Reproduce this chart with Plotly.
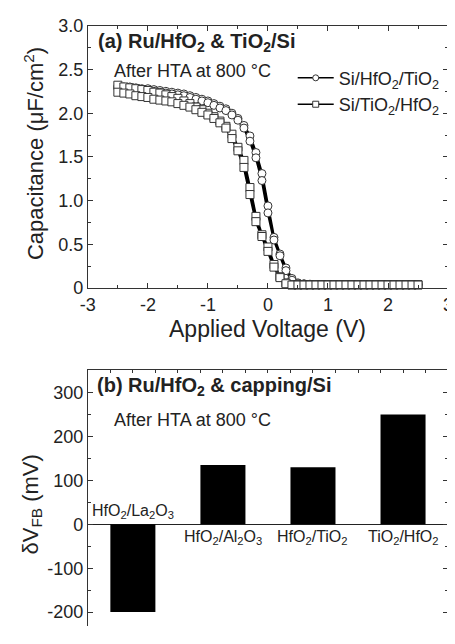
import plotly.graph_objects as go

# ---------------- data: panel (a) C-V curves ----------------
voltage = [-2.5, -2.4, -2.3, -2.2, -2.1, -2.0, -1.9, -1.8, -1.7, -1.6,
           -1.5, -1.4, -1.3, -1.2, -1.1, -1.0, -0.9, -0.8, -0.7, -0.6,
           -0.5, -0.4, -0.3, -0.2, -0.1, 0.0, 0.1, 0.2, 0.3, 0.4,
           0.5, 0.6, 0.7, 0.8, 0.9, 1.0, 1.1, 1.2, 1.3, 1.4,
           1.5, 1.6, 1.7, 1.8, 1.9, 2.0, 2.1, 2.2, 2.3, 2.4, 2.5]

# Si/HfO2/TiO2 (circles), two sweeps
cap_hfo2_tio2_up = [2.31, 2.30, 2.30, 2.29, 2.28, 2.28, 2.27, 2.26, 2.25, 2.24,
                    2.23, 2.22, 2.20, 2.18, 2.16, 2.14, 2.11, 2.08, 2.05, 2.00,
                    1.94, 1.86, 1.74, 1.55, 1.31, 0.94, 0.58, 0.39, 0.23, 0.11,
                    0.06, 0.05, 0.045, 0.04, 0.04, 0.04, 0.04, 0.04, 0.04, 0.04,
                    0.04, 0.04, 0.04, 0.04, 0.04, 0.04, 0.04, 0.04, 0.04, 0.04, 0.04]
cap_hfo2_tio2_dn = [2.29, 2.29, 2.28, 2.27, 2.27, 2.26, 2.25, 2.24, 2.23, 2.22,
                    2.21, 2.20, 2.18, 2.16, 2.14, 2.12, 2.09, 2.06, 2.03, 1.98,
                    1.92, 1.83, 1.68, 1.49, 1.23, 0.86, 0.55, 0.37, 0.20, 0.09,
                    0.05, 0.045, 0.04, 0.04, 0.04, 0.04, 0.04, 0.04, 0.04, 0.04,
                    0.04, 0.04, 0.04, 0.04, 0.04, 0.04, 0.04, 0.04, 0.04, 0.04, 0.04]

# Si/TiO2/HfO2 (squares), two sweeps
cap_tio2_hfo2_up = [2.32, 2.30, 2.29, 2.28, 2.27, 2.26, 2.24, 2.23, 2.21, 2.19,
                    2.17, 2.14, 2.11, 2.07, 2.04, 2.00, 1.96, 1.91, 1.85, 1.76,
                    1.61, 1.46, 1.15, 0.82, 0.61, 0.47, 0.27, 0.13, 0.06, 0.04,
                    0.04, 0.04, 0.04, 0.04, 0.04, 0.04, 0.04, 0.04, 0.04, 0.04,
                    0.04, 0.04, 0.04, 0.04, 0.04, 0.04, 0.04, 0.04, 0.04, 0.04, 0.04]
cap_tio2_hfo2_dn = [2.24, 2.23, 2.22, 2.20, 2.19, 2.18, 2.16, 2.15, 2.14, 2.13,
                    2.11, 2.09, 2.07, 2.04, 2.01, 1.98, 1.94, 1.89, 1.83, 1.71,
                    1.57, 1.38, 1.07, 0.76, 0.59, 0.42, 0.24, 0.12, 0.05, 0.035,
                    0.035, 0.035, 0.035, 0.035, 0.035, 0.035, 0.035, 0.035, 0.035, 0.035,
                    0.035, 0.035, 0.035, 0.035, 0.035, 0.035, 0.035, 0.035, 0.035, 0.035, 0.035]

series_names = ["Si/HfO<sub>2</sub>/TiO<sub>2</sub>", "Si/TiO<sub>2</sub>/HfO<sub>2</sub>"]

cv_xticks = [-3, -2, -1, 0, 1, 2, 3]
cv_xticktext = ["-3", "-2", "-1", "0", "1", "2", "3"]
cv_yticks = [0, 0.5, 1.0, 1.5, 2.0, 2.5, 3.0]
cv_yticktext = ["0", "0.5", "1.0", "1.5", "2.0", "2.5", "3.0"]

# ---------------- data: panel (b) flat-band shift ----------------
cap_stacks = ["HfO<sub>2</sub>/La<sub>2</sub>O<sub>3</sub>",
              "HfO<sub>2</sub>/Al<sub>2</sub>O<sub>3</sub>",
              "HfO<sub>2</sub>/TiO<sub>2</sub>",
              "TiO<sub>2</sub>/HfO<sub>2</sub>"]
dvfb_mv = [-200, 135, 130, 250]
bar_pos = [0, 1, 2, 3]
fb_yticks = [-200, -100, 0, 100, 200, 300]
fb_yticktext = ["-200", "-100", "0", "100", "200", "300"]

FONT = "Liberation Sans, Arial, sans-serif"
# the page body has an 8 px margin: the figure is drawn 8 px in from the window corner
OFF = 8
W, H = 455 - OFF, 644 - 2 * OFF


def px(x):
    return (x - OFF) / W


def py(y):
    return 1 - (y - OFF) / H


fig = go.Figure()

curves = [(cap_hfo2_tio2_up, cap_hfo2_tio2_dn), (cap_tio2_hfo2_up, cap_tio2_hfo2_dn)]
for name, sym, (up, dn) in zip(series_names, ["circle", "square"], curves):
    xs = voltage + [None] + voltage
    ys = up + [None] + dn
    fig.add_trace(go.Scatter(
        x=xs, y=ys, mode="lines+markers", xaxis="x", yaxis="y",
        line=dict(color="black", width=2.5),
        marker=dict(symbol=sym, size=8, color="white",
                    line=dict(color="#333333", width=1)),
        showlegend=False, connectgaps=False, cliponaxis=False))
    # legend entry
    fig.add_trace(go.Scatter(
        x=[None], y=[None], mode="lines+markers", xaxis="x", yaxis="y",
        name=name,
        line=dict(color="black", width=1.5),
        marker=dict(symbol=sym, size=6, color="white",
                    line=dict(color="#333333", width=1)),
        showlegend=True))

fig.add_trace(go.Bar(
    x=bar_pos, y=dvfb_mv, xaxis="x2", yaxis="y2", width=0.5,
    marker=dict(color="black", line=dict(width=0)), showlegend=False))

axis_common = dict(showline=True, linecolor="#333333", linewidth=1, mirror="ticks",
                   ticks="inside", tickcolor="#333333", ticklen=5, showgrid=False,
                   zeroline=False, ticklabeloverflow="allow")

# bottom panel: its lower edge runs past the bottom of the picture
fb_bottom_val = -(644 - OFF - 531) / 0.4533

fig.update_layout(
    width=W, height=H,
    margin=dict(l=0, r=0, t=0, b=0),
    paper_bgcolor="white", plot_bgcolor="white",
    font=dict(family=FONT, color="#222222", size=16),
    xaxis=dict(domain=[px(82), px(453)], anchor="y", range=[-3, 3],
               tickmode="array", tickvals=cv_xticks, ticktext=cv_xticktext,
               tickfont=dict(size=18),
               minor=dict(tickmode="linear", tick0=0, dtick=0.5, ticks="inside",
                          ticklen=3, tickcolor="#333333"),
               **axis_common),
    yaxis=dict(domain=[py(287), py(16)], anchor="x", range=[0, 3],
               tickmode="array", tickvals=cv_yticks, ticktext=cv_yticktext,
               tickfont=dict(size=18),
               minor=dict(tickmode="linear", tick0=0, dtick=0.25, ticks="inside",
                          ticklen=3, tickcolor="#333333"),
               **axis_common),
    xaxis2=dict(domain=[px(82), px(453)], anchor="y2", range=[-0.5, 3.5], side="top",
                tickmode="linear", tick0=-0.5, dtick=0.25, showticklabels=False,
                **{**axis_common, "ticklen": 3, "mirror": False}),
    yaxis2=dict(domain=[0, py(372)], anchor="x2", range=[fb_bottom_val, 350.7],
                tickmode="array", tickvals=fb_yticks, ticktext=fb_yticktext,
                tickfont=dict(size=18),
                minor=dict(tickmode="linear", tick0=0, dtick=50, ticks="inside",
                           ticklen=3, tickcolor="#333333"),
                **{**axis_common, "zeroline": True, "zerolinecolor": "#222222",
                   "zerolinewidth": 1}),
    legend=dict(x=px(293), y=py(51), xanchor="left", yanchor="top",
                bgcolor="rgba(0,0,0,0)", font=dict(size=18, color="#222222"),
                itemwidth=36, tracegroupgap=0),
    bargap=0.5,
)

annotations = [
    dict(text="<b>(a) Ru/HfO<sub>2</sub> & TiO<sub>2</sub>/Si</b>", x=px(90), y=py(33),
         xanchor="left", yanchor="middle", font=dict(size=20)),
    dict(text="After HTA at 800 °C", x=px(107), y=py(63),
         xanchor="left", yanchor="middle", font=dict(size=18)),
    dict(text="Applied Voltage (V)", x=px(267), y=py(329),
         xanchor="center", yanchor="middle", font=dict(size=23)),
    dict(text="Capacitance (μF/cm<sup>2</sup>)", x=px(26), y=py(148), textangle=-90,
         xanchor="center", yanchor="middle", font=dict(size=22)),
    dict(text="<b>(b) Ru/HfO<sub>2</sub> & capping/Si</b>", x=px(89), y=py(389),
         xanchor="left", yanchor="middle", font=dict(size=20)),
    dict(text="After HTA at 800 °C", x=px(107), y=py(423),
         xanchor="left", yanchor="middle", font=dict(size=18)),
    dict(text="δV<sub>FB</sub> (mV)", x=px(24), y=py(511), textangle=-90,
         xanchor="center", yanchor="middle", font=dict(size=22)),
]
for a in annotations:
    a.update(xref="paper", yref="paper", showarrow=False)

for i, (lab, v) in enumerate(zip(cap_stacks, dvfb_mv)):
    annotations.append(dict(
        text=lab, x=bar_pos[i], y=0, xref="x2", yref="y2", showarrow=False,
        xanchor="center", yanchor="bottom" if v < 0 else "top",
        yshift=1 if v < 0 else -2, font=dict(size=16)))

fig.update_layout(annotations=annotations)

fig.write_html("out.html")
